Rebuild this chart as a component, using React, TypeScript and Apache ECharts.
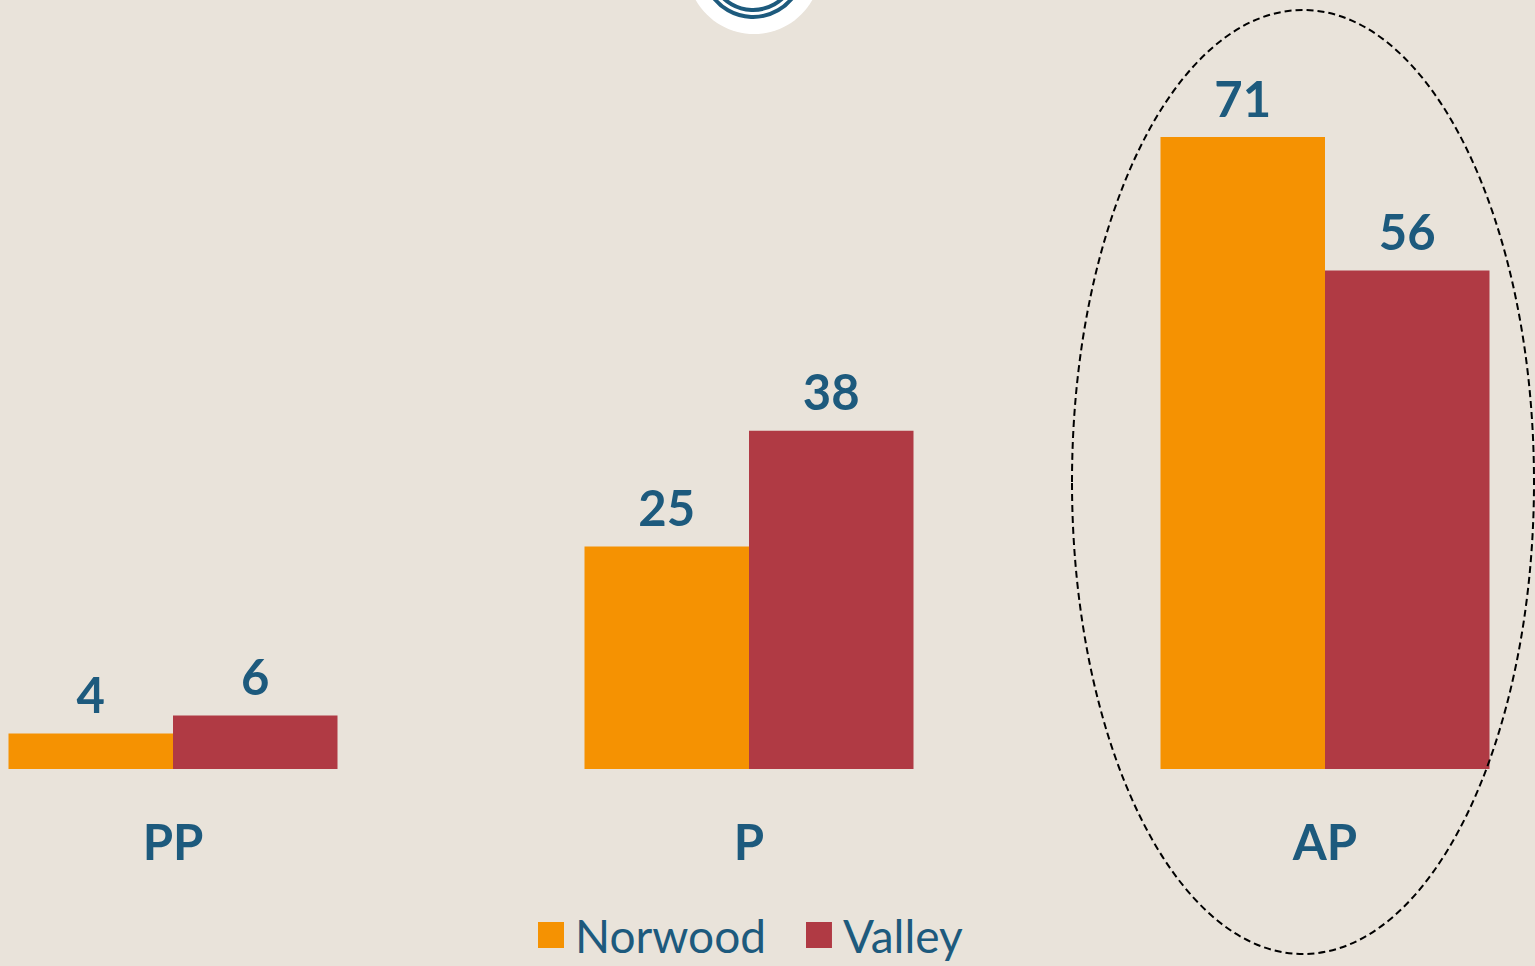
import React, { useEffect, useRef } from "react";
import * as echarts from "echarts";

const categories = ["PP", "P", "AP"];
const norwood = [4, 25, 71];
const valley = [6, 38, 56];
const seriesNames = ["Norwood", "Valley"];

const BLUE = "#1D5A7D";
const ORANGE = "#F59202";
const RED = "#B03A44";
const BG = "#E9E3DA";

const SHIFT = 115;

export default function App() {
  const ref = useRef<HTMLDivElement>(null);
  useEffect(() => {
    if (!ref.current) return;
    const chart = echarts.init(ref.current, null, { renderer: "svg" });
    const labelStyle = {
      show: true,
      position: "top",
      distance: 15,
      color: BLUE,
      fontFamily: "Lato",
      fontWeight: "bold",
      fontSize: 49,
    };
    chart.setOption({
      animation: false,
      backgroundColor: BG,
      grid: { left: 0, right: 0, top: 57, bottom: 197, containLabel: false },
      legend: {
        data: seriesNames,
        left: 538 + SHIFT,
        top: 912,
        padding: 0,
        itemWidth: 26,
        itemHeight: 26,
        itemGap: 40,
        icon: "rect",
        textStyle: { color: BLUE, fontFamily: "Lato", fontSize: 46, padding: [0, 0, 0, 6] },
      },
      xAxis: {
        type: "category",
        data: categories,
        axisLine: { show: false },
        axisTick: { show: false },
        axisLabel: {
          margin: 47,
          color: BLUE,
          fontFamily: "Lato",
          fontWeight: "bold",
          fontSize: 49,
        },
      },
      yAxis: { type: "value", min: 0, max: 80, show: false, splitLine: { show: false } },
      series: [
        {
          name: seriesNames[0],
          type: "bar",
          data: norwood,
          barWidth: 164.5,
          barGap: "0%",
          itemStyle: { color: ORANGE },
          label: labelStyle,
        },
        {
          name: seriesNames[1],
          type: "bar",
          data: valley,
          barWidth: 164.5,
          barGap: "0%",
          itemStyle: { color: RED },
          label: labelStyle,
        },
      ],
      graphic: [
        {
          type: "ellipse",
          z: 100,
          silent: true,
          shape: { cx: 1303 + SHIFT, cy: 482, rx: 231, ry: 472 },
          style: { fill: "none", stroke: "#000", lineWidth: 2, lineDash: [7, 4] },
        },
        {
          type: "circle",
          z: 100,
          silent: true,
          shape: { cx: 754 + SHIFT, cy: -33, r: 67 },
          style: { fill: "#FFFFFF" },
        },
        {
          type: "circle",
          z: 101,
          silent: true,
          shape: { cx: 753 + SHIFT, cy: -33, r: 50 },
          style: { fill: "none", stroke: BLUE, lineWidth: 4 },
        },
        {
          type: "circle",
          z: 101,
          silent: true,
          shape: { cx: 753 + SHIFT, cy: -33, r: 43 },
          style: { fill: "none", stroke: BLUE, lineWidth: 4 },
        },
      ],
    });
    return () => chart.dispose();
  }, []);
  return (
    <div
      style={{
        position: "absolute",
        left: 0,
        top: 0,
        width: 1535,
        height: 966,
        overflow: "hidden",
        background: BG,
      }}
    >
      <div
        ref={ref}
        style={{ position: "absolute", left: -SHIFT, top: 0, width: 1728, height: 966 }}
      />
    </div>
  );
}
